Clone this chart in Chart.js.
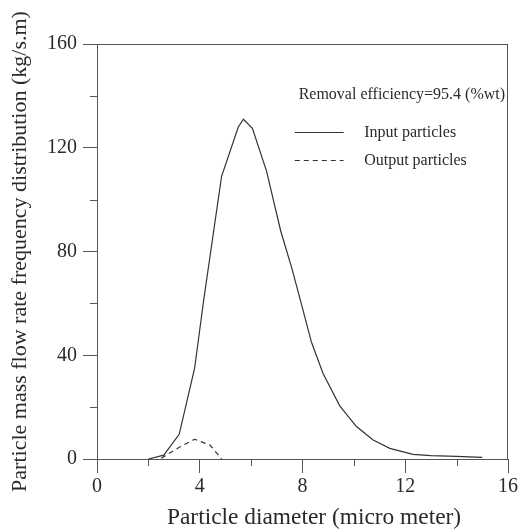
<!DOCTYPE html>
<html><head><meta charset="utf-8">
<style>html,body{margin:0;padding:0;background:#fff}#wrap{width:520px;height:529px}</style>
<script src="https://cdn.jsdelivr.net/npm/chart.js@4.4.1/dist/chart.umd.min.js"></script>
</head><body><div id="wrap"><canvas id="c" width="520" height="529"></canvas></div>
<script>
// ---- data ----
const inputX = [2.0, 2.6, 3.2, 3.8, 4.15, 4.85, 5.5, 5.7, 6.05, 6.6, 7.15, 7.6, 7.95, 8.35, 8.8, 9.45, 10.1, 10.75, 11.4, 12.3, 13.0, 14.0, 15.0];
const inputY = [0, 1.5, 9.5, 35, 61, 109, 128, 131, 127.5, 111, 88, 73, 60, 45, 33, 20.5, 12.5, 7.3, 4.1, 1.8, 1.3, 1.0, 0.6];
const outputX = [2.5, 3.2, 3.8, 4.4, 4.85];
const outputY = [0.3, 4.5, 7.6, 5.4, 0];
const xTickLabels = [0, 4, 8, 12, 16];
const yTickLabels = [0, 40, 80, 120, 160];
const seriesNames = ['Input particles', 'Output particles'];
const legendTitle = 'Removal efficiency=95.4 (%wt)';
const xTitle = 'Particle diameter (micro meter)';
const yTitle = 'Particle mass flow rate frequency distribution (kg/s.m)';

const FONT = '"Liberation Serif", "Times New Roman", serif';
const TXT = '#2a2a2a';
const AX = '#555';
const LINE = '#333';

const toPts = (xs, ys) => xs.map((x, i) => ({x, y: ys[i]}));

const majorColor = (list) => (ctx) => (ctx.tick && list.includes(ctx.tick.value)) ? AX : 'rgba(0,0,0,0)';

const extras = {
  id: 'extras',
  afterDraw(chart) {
    const {ctx, chartArea: a, scales: {x, y}} = chart;
    ctx.save();
    ctx.strokeStyle = AX; ctx.lineWidth = 1;
    // top and right frame
    ctx.beginPath();
    ctx.moveTo(a.left, a.top + 0.5); ctx.lineTo(a.right, a.top + 0.5);
    ctx.moveTo(a.right - 0.5, a.top); ctx.lineTo(a.right - 0.5, a.bottom);
    ctx.stroke();
    // minor ticks
    ctx.beginPath();
    x.ticks.forEach(t => {
      if (!xTickLabels.includes(t.value)) {
        const px = Math.round(x.getPixelForValue(t.value)) + 0.5;
        ctx.moveTo(px, a.bottom); ctx.lineTo(px, a.bottom + 7);
      }
    });
    y.ticks.forEach(t => {
      if (!yTickLabels.includes(t.value)) {
        const py = Math.round(y.getPixelForValue(t.value)) + 0.5;
        ctx.moveTo(a.left - 7, py); ctx.lineTo(a.left, py);
      }
    });
    ctx.stroke();
    // x axis title (offset to the right as in the reference)
    ctx.fillStyle = TXT;
    ctx.textBaseline = 'middle';
    ctx.textAlign = 'center';
    ctx.font = '23.4px ' + FONT;
    ctx.fillText(xTitle, x.getPixelForValue(8.45), chart.height - 11);
    // legend inside plot
    ctx.font = '16px ' + FONT;
    ctx.textAlign = 'left';
    const lx0 = x.getPixelForValue(7.7), lx1 = x.getPixelForValue(9.6), tx = x.getPixelForValue(10.4);
    ctx.fillText(legendTitle, x.getPixelForValue(7.85), y.getPixelForValue(140.3));
    const rows = [126.2, 115.3];
    chart.data.datasets.forEach((ds, i) => {
      const py = Math.round(y.getPixelForValue(rows[i])) + 0.5;
      ctx.strokeStyle = ds.borderColor; ctx.lineWidth = ds.borderWidth;
      ctx.setLineDash(ds.borderDash || []);
      ctx.beginPath(); ctx.moveTo(lx0, py); ctx.lineTo(lx1, py); ctx.stroke();
      ctx.setLineDash([]);
      ctx.fillText(ds.label, tx, py);
    });
    ctx.restore();
  }
};

new Chart(document.getElementById('c'), {
  type: 'scatter',
  data: {
    datasets: [
      {label: seriesNames[0], data: toPts(inputX, inputY), showLine: true, borderColor: LINE, borderWidth: 1.2, pointRadius: 0, tension: 0, fill: false},
      {label: seriesNames[1], data: toPts(outputX, outputY), showLine: true, borderColor: LINE, borderWidth: 1.2, borderDash: [5, 4], pointRadius: 0, tension: 0, fill: false}
    ]
  },
  options: {
    responsive: false, animation: false, devicePixelRatio: 1,
    layout: {padding: {top: 44, right: 9, left: 0, bottom: 0}},
    plugins: {legend: {display: false}, tooltip: {enabled: false}},
    scales: {
      x: {
        type: 'linear', min: 0, max: 16,
        afterFit: s => { s.height = 70; },
        ticks: {stepSize: 2, autoSkip: false, maxRotation: 0, color: TXT, padding: 2,
          font: {family: FONT, size: 20},
          callback: v => xTickLabels.includes(v) ? String(v) : ''},
        grid: {drawOnChartArea: false, drawTicks: true, tickLength: 14, tickColor: majorColor(xTickLabels), tickWidth: 1},
        border: {display: true, color: AX, width: 1},
        title: {display: false}
      },
      y: {
        type: 'linear', min: 0, max: 160,
        afterFit: s => { s.width = 97; },
        ticks: {stepSize: 20, autoSkip: false, color: TXT, padding: 6,
          font: {family: FONT, size: 20},
          callback: v => yTickLabels.includes(v) ? String(v) : ''},
        grid: {drawOnChartArea: false, drawTicks: true, tickLength: 14, tickColor: majorColor(yTickLabels), tickWidth: 1},
        border: {display: true, color: AX, width: 1},
        title: {display: true, text: yTitle, color: TXT, font: {family: FONT, size: 22, lineHeight: 1}, padding: {top: 9, bottom: 0}}
      }
    }
  },
  plugins: [extras]
});
</script>
</body></html>
